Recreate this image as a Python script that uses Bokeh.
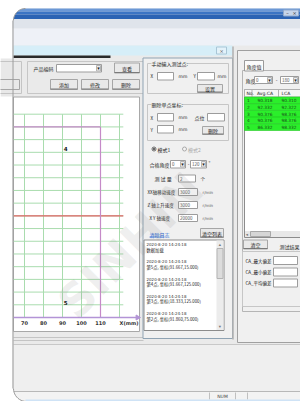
import numpy as np
from bokeh.plotting import figure
from bokeh.models import Range1d
from bokeh.core.properties import value
from bokeh.embed import file_html
from bokeh.resources import INLINE

# ---------------- chart data (mm) ----------------
x_tick_values = [70, 80, 90, 100, 110]
x_tick_labels = ["70", "80", "90", "100", "110"]
x_grid_values = [70, 80, 90, 100, 110, 120]
y_grid_values = [10, 20, 30, 40, 50, 60, 70, 80, 90, 100, 110, 120, 130, 140, 150, 160]
x_axis_label = "X(mm)"
center_line_y = 80
limit_x = 110
limit_y = 150
point_labels = ["4", "5"]
point_x = [91.667, 91.667]
point_y = [133, 12]

# ---------------- result table ----------------
table_no = ["1", "2", "3", "4", "5"]
table_avg = ["90.318", "92.332", "90.376", "90.376", "86.332"]
table_lca = ["90.310", "92.322", "98.376", "98.376", "98.332"]

# ---------------- log ----------------
log_times = ["2020-8-20  14:24:18", "2020-8-20  14:24:18", "2020-8-20  14:24:18",
             "2020-8-20  14:24:18", "2020-8-20  14:24:18"]
log_msgs = ["数据加载", "第5点, 坐标(91.667,15.000)", "第4点, 坐标(91.667,125.000)",
            "第3点, 坐标(18.333,125.000)", "第2点, 坐标(91.860,75.000)"]

CJK = "Noto Sans CJK SC"

p = figure(width=300, height=401, x_range=Range1d(0, 300), y_range=Range1d(401, 0),
           output_backend="svg", toolbar_location=None, min_border=0,
           x_axis_location=None, y_axis_location=None)
p.grid.visible = False
p.outline_line_color = None
p.background_fill_color = "white"
p.border_fill_color = "white"


def box(x0, y0, x1, y1, fill=None, line=None, lw=1, alpha=1.0):
    p.quad(left=[x0], right=[x1], top=[y0], bottom=[y1], fill_color=fill,
           line_color=line, line_width=lw, fill_alpha=alpha)


def hline(x0, x1, y, color, lw=1):
    p.segment(x0=[x0], y0=[y], x1=[x1], y1=[y], line_color=color, line_width=lw)


def vline(x, y0, y1, color, lw=1):
    p.segment(x0=[x], y0=[y0], x1=[x], y1=[y1], line_color=color, line_width=lw)


def txt(x, y, s, size=5, color="#222222", align="left", font=CJK, bg=None, weight="normal"):
    kw = {}
    if bg is not None:
        kw["background_fill_color"] = bg
    p.text(x=[x], y=[y], text=[s], text_font=value(font), text_font_size=f"{size}px",
           text_color=color, text_align=align, text_baseline="middle",
           text_font_style=weight, **kw)


def button(x0, y0, x1, y1, label):
    box(x0, y0, x1, y1, fill="#e9e9e9", line="#a6a6a6")
    hline(x0, x1, y1 - 0.5, "#7a7a7a")
    txt((x0 + x1) / 2, (y0 + y1) / 2, label, align="center")


def inp(x0, y0, x1, y1, s=None):
    box(x0, y0, x1, y1, fill="white", line="#9c9c9c")
    if s:
        txt(x0 + 1.5, (y0 + y1) / 2, s, size=4.5, color="#555555")


def combo(x0, y0, x1, y1, s=None):
    inp(x0, y0, x1, y1, s)
    box(x1 - 5, y0 + 1, x1 - 1, y1 - 1, fill="#ececec", line="#b5b5b5")
    txt(x1 - 3, (y0 + y1) / 2, "▾", size=5, align="center", font="DejaVu Sans")


# ---------------- window chrome ----------------
box(12, 8, 300, 401, fill="#eaeaea", line=None)
box(12, 8, 300, 11, fill="#6b98d6", line=None)
box(12, 11, 300, 14, fill="#3b74c4", line=None)
box(12, 14, 300, 18.5, fill="#2b63b4", line=None)
box(283, 9.5, 298, 15.5, fill="#c6d5ea", line="#8fa8cc")
txt(287, 12.5, "–", size=5, color="#333333", align="center", font="DejaVu Sans")
txt(294, 12.5, "×", size=5, color="#333333", align="center", font="DejaVu Sans")
box(12, 18.5, 300, 28, fill="#dfe4eb", line=None)
box(12, 28, 300, 45, fill="#eef1f7", line=None)
box(13, 45, 232, 55, fill="#d6eef8", line=None)
box(216, 46.5, 226, 53.5, fill="#e3f2fa", line="#a9c6d6")
txt(221, 50, "×", size=5, color="#555555", align="center", font="DejaVu Sans")
box(13, 55, 110, 57.5, fill="#2a2a2a", line=None)
# left fragment
box(0, 58, 12, 96, fill="#e8e8e8", line=None)
box(-2, 61, 21, 93, fill=None, line="#c4c4c4")
box(-2, 79, 19, 89, fill="#e9e9e9", line="#a6a6a6")

# product code group
box(27, 61, 143, 93, fill=None, line="#c6c6c6")
txt(33, 67.5, "产品编码", size=5)
combo(56, 64, 101, 71.5)
button(114, 62.5, 139, 72.5, "查看")
button(50, 79, 77, 89, "添加")
button(81, 79, 108, 89, "修改")
button(112, 79, 139, 89, "删除")

# chart panel
box(13, 96.5, 139, 331, fill="white", line="#a8a8a8")
hline(13, 143, 337, "#c4c4c4")
hline(13, 143, 340, "#c4c4c4")
box(13, 344, 300, 391, fill="#efefef", line=None)
hline(13, 300, 344, "#c8c8c8")

# status bar
box(13, 391, 300, 401, fill="#f3f3f3", line=None)
hline(13, 300, 391, "#b8b8b8")
vline(209, 392, 399, "#c0c0c0")
vline(235, 392, 399, "#c0c0c0")
vline(247, 392, 399, "#c0c0c0")
txt(222, 395.5, "NUM", size=4.5, color="#444444", align="center", font="DejaVu Sans")
hline(25, 300, 400, "#cfe3f6", lw=2)

# rounded window corners (mask)
a = np.linspace(np.pi, 1.5 * np.pi, 12)
cx, cy, r = 25.0, 20.0, 12.0
p.patch(x=np.r_[11, cx + r * np.cos(a), 25, 11], y=np.r_[20, cy + r * np.sin(a), 7, 7],
        fill_color="white", line_color=None)
p.line(x=cx + r * np.cos(a), y=cy + r * np.sin(a), line_color="#9a9a9a")
a2 = np.linspace(0.5 * np.pi, np.pi, 12)
cx2, cy2, r2 = 26.0, 388.0, 13.0
p.patch(x=np.r_[11, cx2 + r2 * np.cos(a2)[::-1], 26, 11],
        y=np.r_[388, cy2 + r2 * np.sin(a2)[::-1], 402, 402],
        fill_color="white", line_color=None)
p.line(x=cx2 + r2 * np.cos(a2), y=cy2 + r2 * np.sin(a2), line_color="#9a9a9a")
vline(12.5, 20, 388, "#9a9a9a")

# ---------------- chart (library scales via sub-coordinates) ----------------
chart = p.subplot(x_source=Range1d(70, 110), y_source=Range1d(0, 160),
                  x_target=Range1d(24, 100), y_target=Range1d(317, 113.7))
x_lo, x_hi, x_axis_end = 64.3, 122, 129.5
chart.segment(x0=x_lo, y0=y_grid_values, x1=x_hi, y1=y_grid_values,
              line_color="#a9dcae", line_width=1)
chart.segment(x0=x_grid_values, y0=0, x1=x_grid_values, y1=max(y_grid_values),
              line_color="#a9dcae", line_width=1)
chart.segment(x0=[x_lo], y0=[center_line_y], x1=[x_hi], y1=[center_line_y],
              line_color="#e06464", line_width=1.2)
chart.segment(x0=[x_lo, limit_x], y0=[limit_y, 0], x1=[limit_x, limit_x], y1=[limit_y, limit_y],
              line_color="#c58ac8", line_width=1.2)
chart.segment(x0=[x_lo], y0=[0], x1=[x_axis_end], y1=[0], line_color="#b394d6", line_width=1.5)
chart.scatter(x=[x_axis_end], y=[0], marker="triangle", angle=-np.pi / 2, size=5,
              fill_color="#b394d6", line_color="#b394d6")
chart.text(x=x_tick_values, y=-4, text=x_tick_labels, text_font=value("DejaVu Sans"),
           text_font_size="5px", text_font_style="bold", text_color="#333333",
           text_align="center", text_baseline="middle")
chart.text(x=[125], y=[-4], text=[x_axis_label], text_font=value("DejaVu Sans"),
           text_font_size="5px", text_font_style="bold", text_color="#333333",
           text_align="center", text_baseline="middle")
chart.text(x=point_x, y=point_y, text=point_labels, text_font=value("DejaVu Sans"),
           text_font_size="5.5px", text_font_style="bold", text_color="#111111",
           text_align="center", text_baseline="middle")

# ---------------- middle dialog ----------------
box(142.5, 57.5, 232, 338, fill="#f0f0f0", line="#8fa3b3")
vline(232.5, 46, 339, "#b0b0b0", lw=1.5)
# manual input group
box(147, 63, 228, 93, fill=None, line="#c6c6c6")
txt(151, 63, "手动输入测试点:", size=5, bg="#f0f0f0")
txt(150, 75.5, "X", size=4.5)
inp(157, 72, 173, 79.5)
txt(178, 75.5, "mm", size=4.5, font="DejaVu Sans")
txt(193, 75.5, "Y", size=4.5)
inp(197, 72, 214, 79.5)
txt(217, 75.5, "mm", size=4.5, font="DejaVu Sans")
button(197, 84, 222, 92, "设置")
# delete group
box(147, 104, 228, 140, fill=None, line="#c6c6c6")
txt(151, 104, "删除单点坐标:", size=5, bg="#f0f0f0")
txt(150, 117, "X", size=4.5)
inp(157, 113, 173, 120.5)
txt(178, 117, "mm", size=4.5, font="DejaVu Sans")
txt(194, 117, "点位", size=5)
inp(207, 113, 224, 120.5)
txt(150, 129, "Y", size=4.5)
inp(157, 125, 173, 132.5)
txt(178, 129, "mm", size=4.5, font="DejaVu Sans")
button(202, 126, 223, 134, "删除")
# mode radios
p.scatter(x=[153.5], y=[148.5], size=4, fill_color="white", line_color="#666666")
p.scatter(x=[153.5], y=[148.5], size=1.8, fill_color="#222222", line_color=None)
txt(157, 148.5, "模式1", size=5)
p.scatter(x=[184], y=[148.5], size=4, fill_color="#f4f4f4", line_color="#aaaaaa")
txt(187.5, 148.5, "模式2", size=5, color="#a8a8a8")
# parameters
txt(149, 163.5, "合格角度", size=5)
combo(170, 160, 185, 167.5, "0")
txt(188, 163.5, "-", size=5, align="center")
combo(190, 160, 206, 167.5, "120")
txt(208, 162, "°", size=5)
txt(154, 178, "测 试 量", size=5)
inp(178, 174.5, 195, 181.5, "2")
txt(200, 178, "个", size=4.5)
txt(147, 191.5, "XX轴移动速度", size=4.5)
inp(178, 188, 197, 195, "3000")
txt(202, 191.5, "r/min", size=4, color="#555555", font="DejaVu Sans")
txt(147, 204.5, "Z 轴上升速度", size=4.5)
inp(178, 201, 197, 208, "3000")
txt(202, 204.5, "r/min", size=4, color="#555555", font="DejaVu Sans")
txt(149, 217.5, "X Y 轴速度", size=4.5)
inp(178, 214, 197, 221, "20000")
txt(202, 217.5, "r/min", size=4, color="#555555", font="DejaVu Sans")
txt(149, 233.5, "清除日志", size=5, color="#1a5fd0")
hline(149, 164, 236.5, "#1a5fd0", lw=0.6)
button(200, 228, 223, 237, "清空列表")
# log list
box(143.5, 239.5, 223.5, 330, fill="white", line="#8c8c8c")
box(216, 240, 223, 329.5, fill="#ececec", line=None)
txt(219.5, 243.5, "▴", size=4.5, color="#777777", align="center", font="DejaVu Sans")
txt(219.5, 326, "▾", size=4.5, color="#777777", align="center", font="DejaVu Sans")
box(216.5, 248, 222.5, 278, fill="#dcdcdc", line="#b4b4b4")
for i, (t, m) in enumerate(zip(log_times, log_msgs)):
    y0 = 244 + i * 17.3
    txt(146, y0, t, size=4, color="#333333", font="DejaVu Sans")
    txt(146, y0 + 5, m, size=4.3, color="#222222")

# ---------------- right panel ----------------
box(237, 50, 301, 342, fill="#f0f0f0", line="#a0a0a0")
box(242, 70, 302, 311, fill=None, line="#b5b5b5")
box(244, 60, 263, 70.5, fill="#fbfbfb", line="#9a9a9a")
txt(253.5, 65.5, "角度值", size=5, align="center")
txt(245, 79.5, "角度", size=5)
combo(254, 76, 272, 83, "0")
txt(276, 79.5, "-", size=5, align="center")
combo(280, 76, 298, 83, "180")
# table
box(244, 89, 302, 237, fill="white", line="#8c8c8c")
box(244, 89, 302, 96.5, fill="#f6f6f6", line="#b0b0b0")
vline(251.5, 89, 96.5, "#b0b0b0")
vline(278, 89, 96.5, "#b0b0b0")
txt(246, 93, "No.", size=4.5, font="DejaVu Sans")
txt(264.5, 93, "Avg.CA", size=4.5, align="center", font="DejaVu Sans")
txt(281, 93, "LCA", size=4.5, font="DejaVu Sans")
row_h = 6.7
for i, (n, av, lc) in enumerate(zip(table_no, table_avg, table_lca)):
    yt = 96.5 + i * row_h
    box(244, yt, 302, yt + row_h, fill="#2bef2b", line="#22c722", lw=0.6)
    txt(246.5, yt + row_h / 2, n, size=4.3, color="#1a4a1a", font="DejaVu Sans")
    txt(264.5, yt + row_h / 2, av, size=4.3, color="#1a4a1a", align="center", font="DejaVu Sans")
    txt(281, yt + row_h / 2, lc, size=4.3, color="#1a4a1a", font="DejaVu Sans")
box(244.5, 230.5, 301.5, 236.5, fill="#e8e8e8", line=None)
txt(246.5, 233.5, "◂", size=4.5, color="#777777", align="center", font="DejaVu Sans")
box(250, 231, 270, 236, fill="#d6d6d6", line="#a8a8a8")
button(243, 239.5, 267, 248.5, "清空")
txt(279, 246, "测试结果", size=5)
box(242, 251, 302, 306, fill=None, line="#c6c6c6")
txt(245, 260, "CA_最大偏差", size=4.5)
inp(273, 256, 297, 264)
txt(245, 271.5, "CA_最小偏差", size=4.5)
inp(273, 267.5, 297, 275.5)
txt(245, 282.5, "CA_平均偏差", size=4.5)
inp(273, 278.5, 297, 286.5)

# ---------------- faint watermark ----------------
p.text(x=[130], y=[245], text=["SINHIN"], text_font=value("DejaVu Sans"),
       text_font_size="46px", text_font_style="bold", text_color="#7f7f7f",
       text_alpha=0.12, angle=np.pi / 4, text_align="center", text_baseline="middle")

open("out.html", "w").write(file_html(p, INLINE))
